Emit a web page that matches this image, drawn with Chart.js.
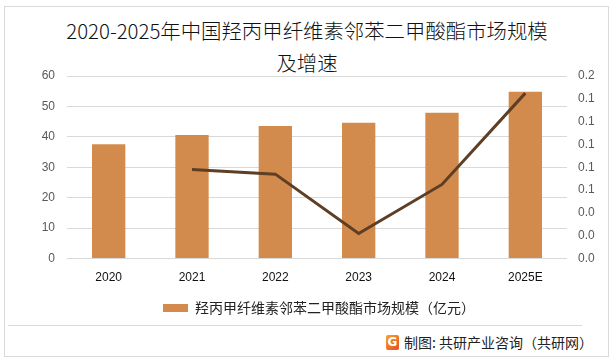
<!DOCTYPE html>
<html>
<head>
<meta charset="utf-8">
<script src="https://cdn.jsdelivr.net/npm/chart.js@4/dist/chart.umd.min.js"></script>
<style>
  html, body { margin: 0; padding: 0; background: #fff; }
  #wrap { position: relative; width: 614px; height: 362px; overflow: hidden; background: #fff; }
  #frame { position: absolute; left: 4px; top: 6px; width: 603px; height: 349px; border: 1px solid #d9d9d9; }
  #sep { position: absolute; left: 8px; top: 325px; width: 574px; height: 1px; background: #d9d9d9; }
  #title { position: absolute; left: 0; top: 14px; width: 614px; text-align: center;
    font-family: "Noto Sans CJK SC", sans-serif; font-weight: 300; font-size: 20.4px; line-height: 32px; color: #111; }
  #cv { position: absolute; left: 0; top: 0; }
  #foot { position: absolute; left: 386px; top: 333px; height: 18px; display: flex; align-items: center;
    font-family: "Noto Sans CJK SC", sans-serif; font-size: 14px; color: #222; }
  #logo { width: 13px; height: 15px; margin-right: 5px; border-radius: 2px;
    background: linear-gradient(135deg, #f7a42c, #ea4a25); color: #fff; font: bold 12px "DejaVu Sans", sans-serif;
    display: flex; align-items: center; justify-content: center; }
</style>
</head>
<body>
<div id="wrap">
  <div id="frame"></div>
  <div id="title">2020-2025年中国羟丙甲纤维素邻苯二甲酸酯市场规模<br>及增速</div>
  <canvas id="cv" width="614" height="328"></canvas>
  <div id="sep"></div>
  <div id="foot"><div id="logo">G</div>制图: 共研产业咨询（共研网）</div>
</div>
<script>
const categories = ["2020", "2021", "2022", "2023", "2024", "2025E"];
const marketSize = [37.6, 40.6, 43.6, 44.6, 47.9, 54.8];
const growthRate = [null, 0.078, 0.074, 0.022, 0.065, 0.145];
const barLabel = "羟丙甲纤维素邻苯二甲酸酯市场规模（亿元）";
const lineLabel = "增速";

new Chart(document.getElementById("cv"), {
  data: {
    labels: categories,
    datasets: [
      {
        type: "line", label: lineLabel, data: growthRate, yAxisID: "y1",
        borderColor: "#5e3e24", borderWidth: 3, pointRadius: 0, tension: 0,
        spanGaps: false, order: 0
      },
      {
        type: "bar", label: barLabel, data: marketSize, yAxisID: "y",
        backgroundColor: "#d38b4d", categoryPercentage: 0.8, barPercentage: 0.5, order: 1
      }
    ]
  },
  options: {
    responsive: false,
    animation: false,
    layout: { padding: { top: 76, bottom: 3, left: 24, right: 0 } },
    plugins: {
      title: { display: false },
      tooltip: { enabled: false },
      legend: {
        position: "bottom",
        labels: {
          filter: (item) => item.text === barLabel,
          boxWidth: 25, boxHeight: 8, padding: 4,
          color: "#222",
          font: { family: "'Noto Sans CJK SC', sans-serif", size: 14 }
        }
      }
    },
    scales: {
      x: {
        grid: { display: false, drawTicks: false },
        border: { display: false },
        ticks: { color: "#111", padding: 12, font: { family: "'Liberation Sans', sans-serif", size: 12 } }
      },
      y: {
        position: "left", min: 0, max: 60,
        ticks: { stepSize: 10, color: "#595959", padding: 12, font: { family: "'Liberation Sans', sans-serif", size: 12 } },
        grid: { color: "#d9d9d9", drawTicks: false },
        border: { display: false },
        afterFit: (s) => { s.width = 43; }
      },
      y1: {
        position: "right", min: 0, max: 0.16,
        ticks: { stepSize: 0.02, color: "#595959", padding: 11,
          font: { family: "'Liberation Sans', sans-serif", size: 12 },
          callback: (v) => Number(v).toFixed(1) },
        grid: { display: false, drawTicks: false },
        border: { display: false },
        afterFit: (s) => { s.width = 47; }
      }
    }
  }
});
</script>
</body>
</html>
